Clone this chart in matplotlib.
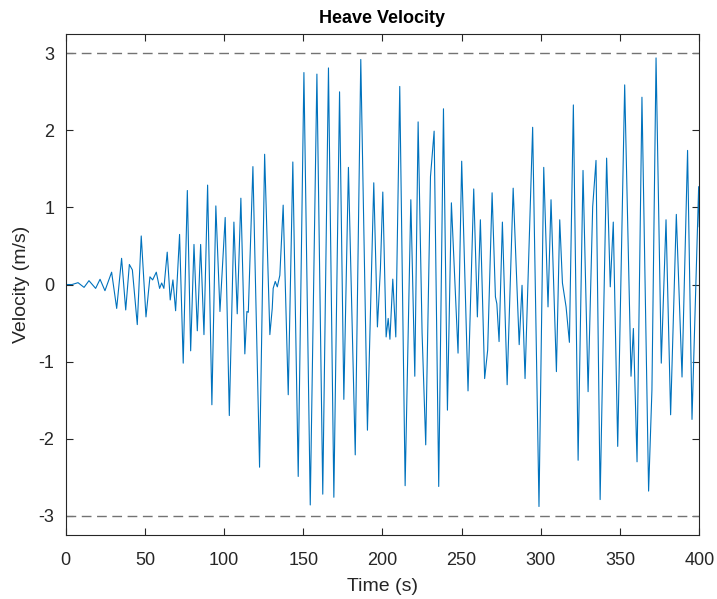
import matplotlib
matplotlib.use("Agg")
import matplotlib.pyplot as plt

plt.rcParams['font.family'] = ['Liberation Sans', 'DejaVu Sans']
plt.rcParams['axes.unicode_minus'] = False

# peaks, troughs and shoulders (time in s, velocity in m/s)
time_s = [0, 4, 7.8, 11.6, 14.7, 18.9, 21.7, 24.8, 29.0, 32.2, 35.3, 37.9, 40.2, 42.1,
          45.2, 47.7, 50.7, 53.2, 54.9, 57.2, 59.3, 60.6, 62.0, 64.1, 66.0, 67.7, 69.4,
          71.9, 74.2, 76.8, 78.9, 81.0, 83.1, 85.2, 87.3, 89.6, 92.3, 94.8, 97.4, 100.7,
          103.3, 106.2, 108.3, 110.6, 113.1, 114.4, 115.3, 118.2, 122.4, 125.6, 128.9,
          130.4, 131.0, 132.3, 133.6, 135.2, 137.3, 140.5, 143.4, 146.8, 150.4, 154.4,
          158.6, 162.3, 165.9, 169.3, 172.9, 175.6, 178.5, 182.8, 186.3, 190.5, 194.5,
          196.8, 198.7, 200.2, 202.3, 203.6, 204.7, 206.5, 208.4, 210.9, 214.3, 217.9,
          220.4, 222.5, 225.0, 227.3, 230.3, 232.6, 235.5, 238.5, 241.0, 243.5, 247.7,
          250.0, 254.0, 257.6, 259.9, 261.8, 264.5, 266.4, 269.2, 271.3, 272.2, 273.6,
          275.7, 278.7, 282.5, 286.3, 288.1, 290.0, 292.3, 294.8, 298.8, 301.8, 304.5,
          306.4, 309.8, 311.9, 313.6, 315.9, 318.0, 320.5, 323.5, 326.6, 329.8, 332.7,
          334.8, 337.4, 341.5, 343.8, 345.7, 348.5, 352.9, 356.9, 358.4, 360.7, 363.8,
          368.0, 370.1, 372.7, 376.0, 379.0, 381.9, 385.5, 389.1, 392.6, 395.4, 399.6,
          400]
velocity = [0, 0, 0.024, -0.037, 0.05, -0.05, 0.068, -0.08, 0.16, -0.31, 0.34, -0.33,
            0.26, 0.19, -0.52, 0.63, -0.42, 0.10, 0.06, 0.16, -0.05, 0.02, -0.05, 0.42,
            -0.20, 0.06, -0.34, 0.65, -1.02, 1.22, -0.86, 0.52, -0.60, 0.52, -0.65, 1.29,
            -1.56, 1.02, -0.35, 0.87, -1.70, 0.81, -0.38, 1.12, -0.90, -0.35, -0.36, 1.53,
            -2.37, 1.69, -0.65, -0.31, -0.05, 0.04, -0.03, 0.12, 1.03, -1.43, 1.59, -2.49,
            2.75, -2.86, 2.73, -2.72, 2.81, -2.76, 2.50, -1.49, 1.52, -2.21, 2.92, -1.89,
            1.32, -0.55, 0.21, 1.20, -0.68, -0.44, -0.71, 0.07, -0.68, 2.57, -2.61, 1.10,
            -1.19, 2.11, -0.63, -2.08, 1.40, 1.99, -2.62, 2.28, -1.63, 1.06, -0.89, 1.60,
            -1.38, 1.24, -0.42, 0.84, -1.22, -0.85, 1.19, -0.16, -0.25, -0.74, 0.81, -1.30,
            1.25, -0.78, -0.01, -1.22, 0.36, 2.04, -2.88, 1.52, -0.29, 1.10, -1.13, 0.84,
            0.02, -0.29, -0.75, 2.33, -2.28, 1.48, -1.39, 1.01, 1.61, -2.79, 1.64, -0.03,
            0.81, -2.10, 2.59, -1.19, -0.57, -2.30, 2.43, -2.68, -1.37, 2.94, -1.02, 0.84,
            -1.69, 0.91, -1.20, 1.74, -1.75, 1.27, 0.75]

limit = 3
x_ticks = [0, 50, 100, 150, 200, 250, 300, 350, 400]
y_ticks = [-3, -2, -1, 0, 1, 2, 3]

fig = plt.figure(figsize=(7.17, 5.99), dpi=100)
ax = fig.add_axes([0.0916, 0.1068, 0.8837, 0.8364])

ax.plot(time_s, velocity, color='#0072BD', lw=0.8)
ax.axhline(limit, color='0.45', lw=1.0, dashes=(7, 4))
ax.axhline(-limit, color='0.45', lw=1.0, dashes=(7, 4))

ax.set_xlim(0, 400)
ax.set_ylim(-3.25, 3.25)
ax.set_xticks(x_ticks)
ax.set_yticks(y_ticks)
ax.tick_params(direction='in', length=5, width=0.8, colors='0.15', labelsize=13,
               top=True, right=True)
ax.tick_params(axis='x', pad=12)
ax.tick_params(axis='y', pad=8)
for s in ax.spines.values():
    s.set_color('0.15')
    s.set_linewidth(0.8)

ax.set_xlabel('Time (s)', fontsize=14, color='0.15', labelpad=7)
ax.set_ylabel('Velocity (m/s)', fontsize=14, color='0.15', labelpad=6)
ax.set_title('Heave Velocity', fontsize=13, fontweight='bold', pad=8)

fig.savefig('out.png', dpi=100)
